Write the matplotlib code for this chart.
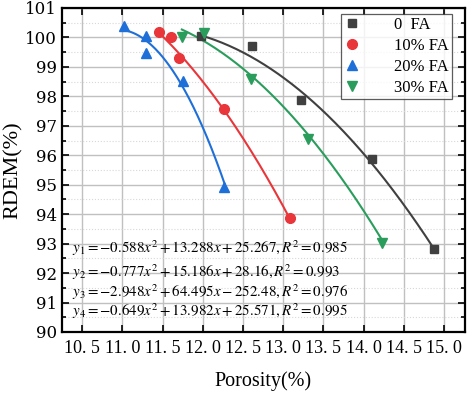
import numpy as np
import matplotlib
matplotlib.use("Agg")
import matplotlib.pyplot as plt
from matplotlib.ticker import MultipleLocator, FixedLocator

plt.rcParams['mathtext.fontset'] = 'stix'

# ---- data ----
labels = ["0  FA", "10% FA", "20% FA", "30% FA"]
x0 = [11.98, 12.61, 13.22, 14.10, 14.87]
y0 = [100.05, 99.71, 97.87, 95.88, 92.82]
x10 = [11.46, 11.60, 11.71, 12.27, 13.08]
y10 = [100.18, 100.0, 99.30, 97.58, 93.87]
x20 = [11.02, 11.30, 11.30, 11.75, 12.27]
y20 = [100.38, 100.05, 99.47, 98.53, 94.92]
x30 = [11.74, 12.02, 12.60, 13.31, 14.23]
y30 = [100.0, 100.15, 98.59, 96.55, 93.03]

# fitted quadratic coefficients (a, b, c) as printed on the chart
coef0 = [-0.588, 13.288, 25.267]
coef10 = [-0.777, 15.186, 28.16]
coef20 = [-2.948, 64.495, -252.48]
coef30 = [-0.649, 13.982, 25.571]
r2 = ["0.985", "0.993", "0.976", "0.995"]

xticks = [10.5, 11.0, 11.5, 12.0, 12.5, 13.0, 13.5, 14.0, 14.5, 15.0]
xticklabels = ["10. 5", "11. 0", "11. 5", "12. 0", "12. 5", "13. 0", "13. 5", "14. 0", "14. 5", "15. 0"]
yticks = [90, 91, 92, 93, 94, 95, 96, 97, 98, 99, 100, 101]

colors = ["#404040", "#e8363b", "#1f6fd8", "#2a9d5c"]
markers = ["s", "o", "^", "v"]
msizes = [6, 7, 7.5, 7.5]

fig = plt.figure(figsize=(4.74, 3.94), dpi=100)
ax = fig.add_axes([0.1308, 0.1574, 0.8502, 0.8223])

series = [(x0, y0, coef0), (x10, y10, coef10), (x20, y20, coef20), (x30, y30, coef30)]
for (xs, ys, cf), c, m, ms, lab in zip(series, colors, markers, msizes, labels):
    xx = np.linspace(min(xs), max(xs), 200)
    ax.plot(xx, np.polyval(cf, xx), color=c, lw=1.5, zorder=3)
    ax.plot(xs, ys, linestyle='none', marker=m, color=c, ms=ms, label=lab, zorder=4)

ax.set_xlim(10.25, 15.26)
ax.set_ylim(90, 101)
ax.xaxis.set_major_locator(FixedLocator(xticks))
ax.set_xticklabels(xticklabels, fontfamily='Liberation Serif', fontsize=13)
ax.set_yticks(yticks)
ax.set_yticklabels([str(v) for v in yticks], fontfamily='DejaVu Serif', fontsize=12)
ax.yaxis.set_minor_locator(MultipleLocator(0.5))

ax.tick_params(which='both', direction='in', top=True, right=True, width=1.2)
ax.tick_params(which='major', length=5)
ax.tick_params(which='minor', length=3)
ax.tick_params(axis='x', which='minor', top=False, bottom=False)
ax.tick_params(axis='x', pad=6)

ax.grid(which='major', color='#c0c0c0', lw=1.0, zorder=0)
ax.grid(which='minor', axis='y', color='#d8d8d8', lw=0.8, ls=':', zorder=0)
ax.set_axisbelow(True)
for s in ax.spines.values():
    s.set_linewidth(1.6)

ax.set_xlabel("Porosity(%)", fontfamily='Liberation Serif', fontsize=14.5, labelpad=10)
ax.set_ylabel("RDEM(%)", fontfamily='Liberation Serif', fontsize=16, labelpad=2)

leg = ax.legend(loc='upper right', bbox_to_anchor=(0.968, 0.982), prop={'family': 'Liberation Serif', 'size': 12},
                frameon=True, fancybox=False, edgecolor='#333333', handletextpad=2.0,
                borderpad=0.2, labelspacing=0.3, handlelength=1.0, borderaxespad=0)
leg.get_frame().set_linewidth(0.9)

def fmt(v):
    return ("%g" % abs(v))

eq_y = [0.259, 0.186, 0.122, 0.064]
for i, (cf, r) in enumerate(zip([coef0, coef10, coef20, coef30], r2)):
    a, b, c = cf
    sc = "+" if c >= 0 else "-"
    txt = (r"$y_{%d} = -%s x^{2} + %s x %s %s, R^{2} = %s$"
           % (i + 1, ("%.3f" % abs(a)), ("%.3f" % abs(b)), sc, fmt(c), r))
    ax.text(0.026, eq_y[i], txt, transform=ax.transAxes, fontsize=10.8, va='center', ha='left', zorder=5)

fig.savefig("out.png", dpi=100)
